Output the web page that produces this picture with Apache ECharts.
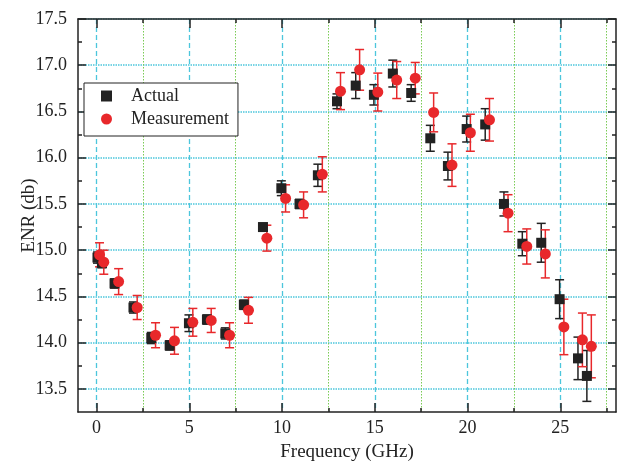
<!DOCTYPE html>
<html><head><meta charset="utf-8">
<script src="https://cdn.jsdelivr.net/npm/echarts@6/dist/echarts.min.js"></script>
<style>html,body{margin:0;padding:0;background:#fff}#c{width:618px;height:464px}</style>
</head><body><div id="c"></div>
<script>
// Data
const actualFreq = [0.05, 0.29, 0.97, 1.99, 2.95, 3.94, 4.98, 5.95, 6.94, 7.94, 8.97, 9.96, 10.94, 11.93, 12.96, 13.97, 14.95, 15.97, 16.96, 17.99, 18.94, 19.95, 20.95, 21.96, 22.95, 23.97, 24.96, 25.95, 26.43];
const actualEnr = [14.92, 14.86, 14.64, 14.38, 14.05, 13.97, 14.21, 14.25, 14.10, 14.41, 15.25, 15.67, 15.50, 15.81, 16.61, 16.78, 16.68, 16.91, 16.70, 16.21, 15.91, 16.31, 16.36, 15.50, 15.07, 15.08, 14.47, 13.83, 13.64];
const actualErr = [0.06, 0.05, 0.05, 0.06, 0.06, 0.05, 0.09, 0.05, 0.06, 0.05, 0.04, 0.08, 0.05, 0.12, 0.08, 0.14, 0.11, 0.145, 0.09, 0.14, 0.15, 0.14, 0.17, 0.13, 0.13, 0.21, 0.21, 0.23, 0.275];
const measFreq = [0.16, 0.39, 1.19, 2.19, 3.18, 4.2, 5.19, 6.18, 7.17, 8.19, 9.18, 10.19, 11.16, 12.17, 13.15, 14.18, 15.16, 16.18, 17.18, 18.17, 19.16, 20.15, 21.18, 22.18, 23.19, 24.19, 25.19, 26.19, 26.67];
const measEnr = [14.95, 14.87, 14.66, 14.38, 14.08, 14.02, 14.22, 14.24, 14.08, 14.35, 15.13, 15.56, 15.49, 15.82, 16.72, 16.95, 16.71, 16.84, 16.86, 16.49, 15.92, 16.27, 16.41, 15.40, 15.04, 14.96, 14.17, 14.03, 13.96];
const measErr = [0.13, 0.13, 0.14, 0.13, 0.135, 0.145, 0.15, 0.13, 0.135, 0.14, 0.14, 0.147, 0.14, 0.19, 0.2, 0.22, 0.205, 0.2, 0.17, 0.21, 0.23, 0.2, 0.23, 0.2, 0.19, 0.26, 0.30, 0.29, 0.34];
const xMajorTicks = [0, 5, 10, 15, 20, 25];
const xMinorTicks = [2.5, 7.5, 12.5, 17.5, 22.5, 27.5];
const yMajorTicks = [13.5, 14.0, 14.5, 15.0, 15.5, 16.0, 16.5, 17.0, 17.5];
const yMinorTicks = [13.75, 14.25, 14.75, 15.25, 15.75, 16.25, 16.75, 17.25];
const seriesNames = ['Actual', 'Measurement'];
const xName = 'Frequency (GHz)';
const yName = 'ENR (db)';

const FONT = 'Liberation Serif';
const INK = '#222';
const RED = '#e8282b';
const X_MIN = -1, X_MAX = 28, Y_MIN = 13.25, Y_MAX = 17.5;

function xAxisDef(pos, ticks, len, showLine, showLabel, split) {
  return {
    type: 'value', position: pos, min: X_MIN, max: X_MAX,
    axisLine: { show: showLine, onZero: false, lineStyle: { color: INK, width: 1.5 } },
    axisTick: { show: true, inside: true, length: len, customValues: ticks, lineStyle: { color: INK, width: 1.5 } },
    axisLabel: showLabel ? { show: true, customValues: ticks, fontFamily: FONT, fontSize: 18, color: INK, margin: 7 } : { show: false },
    splitLine: split ? { show: true, lineStyle: split } : { show: false },
    name: showLabel ? xName : '', nameLocation: 'middle', nameGap: 31,
    nameTextStyle: { fontFamily: FONT, fontSize: 19, color: INK }
  };
}
function yAxisDef(pos, ticks, len, showLine, showLabel, split) {
  return {
    type: 'value', position: pos, min: Y_MIN, max: Y_MAX,
    axisLine: { show: showLine, onZero: false, lineStyle: { color: INK, width: 1.5 } },
    axisTick: { show: true, inside: true, length: len, customValues: ticks, lineStyle: { color: INK, width: 1.5 } },
    axisLabel: showLabel ? { show: true, customValues: ticks, fontFamily: FONT, fontSize: 18, color: INK, margin: 11,
      formatter: v => Number(v).toFixed(1) } : { show: false },
    splitLine: split ? { show: true, lineStyle: split } : { show: false },
    name: showLabel ? yName : '', nameLocation: 'middle', nameGap: 39, nameRotate: 90, nameMoveOverlap: false,
    nameTextStyle: { fontFamily: FONT, fontSize: 19, color: INK }
  };
}

function errBars(freq, val, err, color) {
  return {
    type: 'custom', name: color === INK ? 'errA' : 'errM', xAxisIndex: 0, yAxisIndex: 0, z: 3,
    data: freq.map((f, i) => [f, val[i], err[i]]),
    renderItem: function (params, api) {
      const x = api.value(0), y = api.value(1), e = api.value(2);
      const t = api.coord([x, y + e]), b = api.coord([x, y - e]);
      const w = 4.5;
      const st = { stroke: color, lineWidth: 1.5 };
      return { type: 'group', children: [
        { type: 'line', shape: { x1: t[0], y1: t[1], x2: b[0], y2: b[1] }, style: st },
        { type: 'line', shape: { x1: t[0] - w, y1: t[1], x2: t[0] + w, y2: t[1] }, style: st },
        { type: 'line', shape: { x1: b[0] - w, y1: b[1], x2: b[0] + w, y2: b[1] }, style: st }
      ] };
    }
  };
}

const chart = echarts.init(document.getElementById('c'), null, { renderer: 'canvas' });
chart.setOption({
  animation: false,
  backgroundColor: '#fff',
  grid: { left: 78, right: 2, top: 19, bottom: 52, containLabel: false, outerBoundsMode: 'none' },
  legend: {
    data: [{ name: seriesNames[0], icon: 'rect' }, { name: seriesNames[1], icon: 'circle' }],
    orient: 'vertical', left: 84, top: 83,
    itemWidth: 11, itemHeight: 11, itemGap: 5,
    padding: [4, 9, 8, 17],
    borderColor: INK, borderWidth: 1, backgroundColor: '#fff',
    textStyle: { fontFamily: FONT, fontSize: 18, color: INK, padding: [0, 0, 0, 14] }
  },
  xAxis: [
    xAxisDef('bottom', xMajorTicks, 9, true, true, { color: '#4cc6dc', width: 1.3, type: [5, 3] }),
    xAxisDef('bottom', xMinorTicks, 4, false, false, { color: '#7acb55', width: 1, type: [1.5, 1.5] }),
    xAxisDef('top', xMajorTicks, 9, true, false, null),
    xAxisDef('top', xMinorTicks, 4, false, false, null)
  ],
  yAxis: [
    yAxisDef('left', yMajorTicks, 8, true, true, { color: '#4cc6dc', width: 1.5, type: [1.5, 1] }),
    yAxisDef('left', yMinorTicks, 4, false, false, null),
    yAxisDef('right', yMajorTicks, 8, true, false, null),
    yAxisDef('right', yMinorTicks, 4, false, false, null)
  ],
  series: [
    errBars(actualFreq, actualEnr, actualErr, INK),
    {
      type: 'scatter', name: seriesNames[0], xAxisIndex: 0, yAxisIndex: 0, z: 4,
      symbol: 'rect', symbolSize: 10, itemStyle: { color: INK, opacity: 1 },
      data: actualFreq.map((f, i) => [f, actualEnr[i]])
    },
    errBars(measFreq, measEnr, measErr, RED),
    {
      type: 'scatter', name: seriesNames[1], xAxisIndex: 0, yAxisIndex: 0, z: 6,
      symbol: 'circle', symbolSize: 11, itemStyle: { color: RED, opacity: 1 },
      data: measFreq.map((f, i) => [f, measEnr[i]])
    }
  ]
});
</script></body></html>
